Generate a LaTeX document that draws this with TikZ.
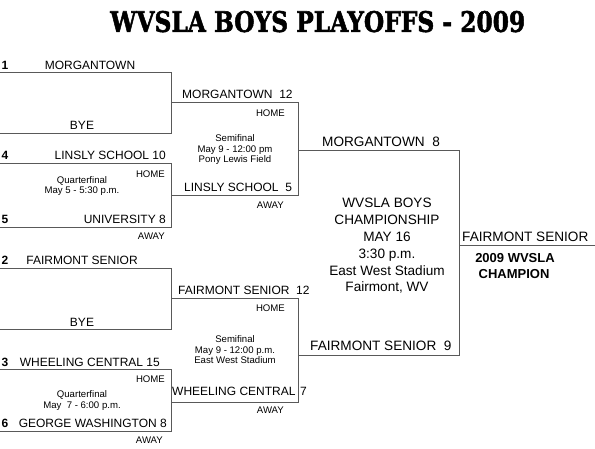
\documentclass[tikz,border=0pt]{standalone}
\usepackage{graphicx}
\usepackage{fontspec}
\setmainfont{Liberation Sans}
\newfontfamily\titlefont{DejaVu Serif}[FakeBold=2]
\tikzset{
  ln/.style={draw=black!65, line width=0.95pt},
  tname/.style={font=\fontsize{12}{14}\selectfont, inner sep=0},
  fname/.style={font=\fontsize{13.6}{16}\selectfont, inner sep=0},
  small/.style={font=\fontsize{9.6}{10.5}\selectfont, inner sep=0},
  seed/.style={font=\bfseries\fontsize{12}{14}\selectfont, inner sep=0},
  champ/.style={font=\bfseries\fontsize{13}{15}\selectfont, inner sep=0},
}
\begin{document}
\begin{tikzpicture}[x=1pt,y=-1pt]
\useasboundingbox (0,0) rectangle (595,448);
% title
\node[anchor=south west, inner sep=0] (title) at (110,32.5)
  {\resizebox{415pt}{21pt}{\titlefont\bfseries WVSLA BOYS PLAYOFFS - 2009}};

% ---------- coordinates ----------
% bracket 1
\coordinate (a1) at (0,72.5);   \coordinate (a2) at (171.5,72.5);
\coordinate (a3) at (171.5,133); \coordinate (a4) at (0,133);
% bracket 2
\coordinate (b1) at (0,163.5);   \coordinate (b2) at (171.5,163.5);
\coordinate (b3) at (171.5,227); \coordinate (b4) at (0,227);
% semifinal 1
\coordinate (s1) at (171.5,102.5); \coordinate (s2) at (298,102.5);
\coordinate (s3) at (298,195);     \coordinate (s4) at (171.5,195);
% bracket 3
\coordinate (c1) at (0,268);       \coordinate (c2) at (171.5,268);
\coordinate (c3) at (171.5,329.5); \coordinate (c4) at (0,329.5);
% bracket 4
\coordinate (d1) at (0,369.5);     \coordinate (d2) at (171.5,369.5);
\coordinate (d3) at (171.5,431);   \coordinate (d4) at (0,431);
% semifinal 2
\coordinate (u1) at (171.5,298); \coordinate (u2) at (298,298);
\coordinate (u3) at (298,402);   \coordinate (u4) at (171.5,402);
% final
\coordinate (f1) at (298,150.5); \coordinate (f2) at (459,150.5);
\coordinate (f3) at (459,355);   \coordinate (f4) at (298,355);
% champion
\coordinate (g1) at (459,245);   \coordinate (g2) at (595,245);

% ---------- lines ----------
\draw[ln] (a1) -- (a2) -- (a3) -- (a4);
\draw[ln] (b1) -- (b2) -- (b3) -- (b4);
\draw[ln] (s1) -- (s2) -- (s3) -- (s4);
\draw[ln] (c1) -- (c2) -- (c3) -- (c4);
\draw[ln] (d1) -- (d2) -- (d3) -- (d4);
\draw[ln] (u1) -- (u2) -- (u3) -- (u4);
\draw[ln] (f1) -- (f2) -- (f3) -- (f4);
\draw[ln] (g1) -- (g2);

% ---------- top half texts ----------
\node[seed, anchor=base west] (n1) at (1.5,69) {1};
\node[tname, anchor=base] (t1) at (90,69) {MORGANTOWN};
\node[tname, anchor=base] (bye1) at (82,129.5) {BYE};
\node[seed, anchor=base west] (n4) at (1.5,159.5) {4};
\node[tname, anchor=base east] (t4) at (166,159.5) {LINSLY SCHOOL 10};
\node[small, anchor=base east] (h1) at (165,177) {HOME};
\node[small, anchor=base] (q1a) at (82,183) {Quarterfinal};
\node[small, anchor=base] (q1b) at (82,193.5) {May 5 - 5:30 p.m.};
\node[seed, anchor=base west] (n5) at (1.5,223.5) {5};
\node[tname, anchor=base east] (t5) at (166,223.5) {UNIVERSITY 8};
\node[small, anchor=base east] (aw1) at (165,239.5) {AWAY};

% semifinal 1
\node[tname, anchor=base west] (sf1a) at (182,98.5) {MORGANTOWN~~12};
\node[small, anchor=base east] (sh1) at (285,116.5) {HOME};
\node[small, anchor=base] (sm1a) at (235,141.5) {Semifinal};
\node[small, anchor=base] (sm1b) at (235,152) {May 9 - 12:00 pm};
\node[small, anchor=base] (sm1c) at (235,162.5) {Pony Lewis Field};
\node[tname, anchor=base west] (sf1b) at (184,191.5) {LINSLY SCHOOL~~5};
\node[small, anchor=base east] (sa1) at (284,208.5) {AWAY};

% final
\node[fname, anchor=base west] (fa) at (322,146.5) {MORGANTOWN~~8};
\node[fname, anchor=base] (fc1) at (387,207) {WVSLA BOYS};
\node[fname, anchor=base] (fc2) at (387,224) {CHAMPIONSHIP};
\node[fname, anchor=base] (fc3) at (387,241) {MAY 16};
\node[fname, anchor=base] (fc4) at (387,258) {3:30 p.m.};
\node[fname, anchor=base] (fc5) at (387,275) {East West Stadium};
\node[fname, anchor=base] (fc6) at (387,291.5) {Fairmont, WV};
\node[fname, anchor=base west] (fb) at (310,350.5) {FAIRMONT SENIOR~~9};

% champion
\node[fname, anchor=base west] (ch) at (462,241.5) {FAIRMONT SENIOR};
\node[champ, anchor=base] (ch1) at (515,262) {2009 WVSLA};
\node[champ, anchor=base] (ch2) at (514,278) {CHAMPION};

% ---------- bottom half texts ----------
\node[seed, anchor=base west] (n2) at (1.5,264.5) {2};
\node[tname, anchor=base] (t2) at (82,264.5) {FAIRMONT SENIOR};
\node[tname, anchor=base] (bye2) at (82,326) {BYE};
\node[seed, anchor=base west] (n3) at (1.5,366) {3};
\node[tname, anchor=base east] (t3) at (160,366) {WHEELING CENTRAL 15};
\node[small, anchor=base east] (h2) at (165,382) {HOME};
\node[small, anchor=base] (q2a) at (82,397) {Quarterfinal};
\node[small, anchor=base] (q2b) at (82,408) {May~~7 - 6:00 p.m.};
\node[seed, anchor=base west] (n6) at (1.5,427.5) {6};
\node[tname, anchor=base east] (t6) at (167,427.5) {GEORGE WASHINGTON 8};
\node[small, anchor=base east] (aw2) at (163,443.5) {AWAY};

% semifinal 2
\node[tname, anchor=base west] (sf2a) at (178,294) {FAIRMONT SENIOR~~12};
\node[small, anchor=base east] (sh2) at (285,311) {HOME};
\node[small, anchor=base] (sm2a) at (235,342) {Semifinal};
\node[small, anchor=base] (sm2b) at (235,353) {May 9 - 12:00 p.m.};
\node[small, anchor=base] (sm2c) at (235,363.5) {East West Stadium};
\node[tname, anchor=base west] (sf2b) at (172,395) {WHEELING CENTRAL};
\node[tname, anchor=base west] (sf2c) at (300,395) {7};
\node[small, anchor=base east] (sa2) at (284,413.5) {AWAY};
\end{tikzpicture}
\end{document}
